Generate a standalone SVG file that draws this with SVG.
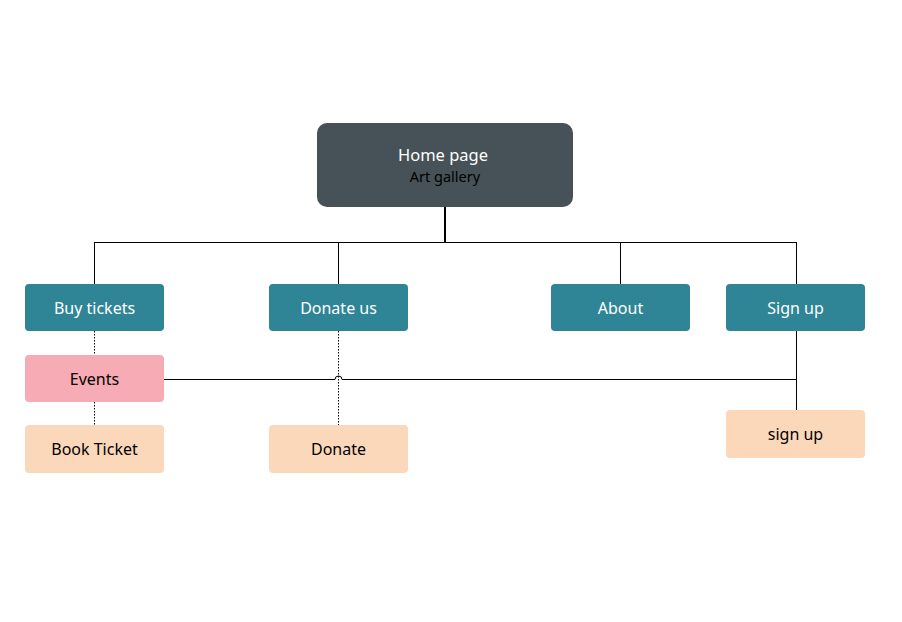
<svg xmlns="http://www.w3.org/2000/svg" width="902" height="622" viewBox="0 0 902 622">
<style>
text{font-family:"Noto Sans","Open Sans",sans-serif;font-size:16px;text-anchor:middle;dominant-baseline:central}
.top{fill:#2f8595}
.pink{fill:#f7abb5}
.peach{fill:#fcd8bb}
.w{fill:#ffffff}
.k{fill:#000000}
.ln{stroke:#000;stroke-width:1;fill:none}
.dot{stroke:#000;stroke-width:1;fill:none;stroke-dasharray:1.5 1.5}
</style>
<rect width="902" height="622" fill="#fff"/>
<g id="connectors">
<line x1="445" y1="207" x2="445" y2="242" stroke="#000" stroke-width="2"/>
<line class="ln" x1="94" y1="242.5" x2="796" y2="242.5"/>
<line class="ln" x1="94.5" y1="242" x2="94.5" y2="284"/>
<line class="ln" x1="338.5" y1="242" x2="338.5" y2="284"/>
<line class="ln" x1="620.5" y1="242" x2="620.5" y2="284"/>
<line class="ln" x1="796.5" y1="242" x2="796.5" y2="284"/>
<line class="dot" x1="94.5" y1="331" x2="94.5" y2="355"/>
<line class="dot" x1="94.5" y1="402" x2="94.5" y2="425"/>
<line class="dot" x1="338.5" y1="331" x2="338.5" y2="425"/>
<path class="ln" d="M164 379.5 H335 A3.5 3.5 0 0 1 342 379.5 H796.5"/>
<line class="ln" x1="796.5" y1="331" x2="796.5" y2="410"/>
</g>
<g id="home">
<rect x="317" y="123" width="256" height="84" rx="10" fill="#465257"/>
<text x="443" y="154" class="w" style="font-size:16.5px">Home page</text>
<text x="445" y="176" class="k" style="font-size:14.5px">Art gallery</text>
</g>
<g id="buy">
<rect class="top" x="25" y="284" width="139" height="47" rx="4"/>
<text class="w" x="94.5" y="308">Buy tickets</text>
</g>
<g id="donateus">
<rect class="top" x="269" y="284" width="139" height="47" rx="4"/>
<text class="w" x="338.5" y="308">Donate us</text>
</g>
<g id="about">
<rect class="top" x="551" y="284" width="139" height="47" rx="4"/>
<text class="w" x="620.5" y="308">About</text>
</g>
<g id="signup">
<rect class="top" x="726" y="284" width="139" height="47" rx="4"/>
<text class="w" x="795.5" y="308">Sign up</text>
</g>
<g id="events">
<rect class="pink" x="25" y="355" width="139" height="47" rx="4"/>
<text class="k" x="94.5" y="379">Events</text>
</g>
<g id="book">
<rect class="peach" x="25" y="425" width="139" height="48" rx="4"/>
<text class="k" x="94.5" y="449">Book Ticket</text>
</g>
<g id="donate">
<rect class="peach" x="269" y="425" width="139" height="48" rx="4"/>
<text class="k" x="338.5" y="449">Donate</text>
</g>
<g id="signup2">
<rect class="peach" x="726" y="410" width="139" height="48" rx="4"/>
<text class="k" x="795.5" y="434">sign up</text>
</g>
</svg>
